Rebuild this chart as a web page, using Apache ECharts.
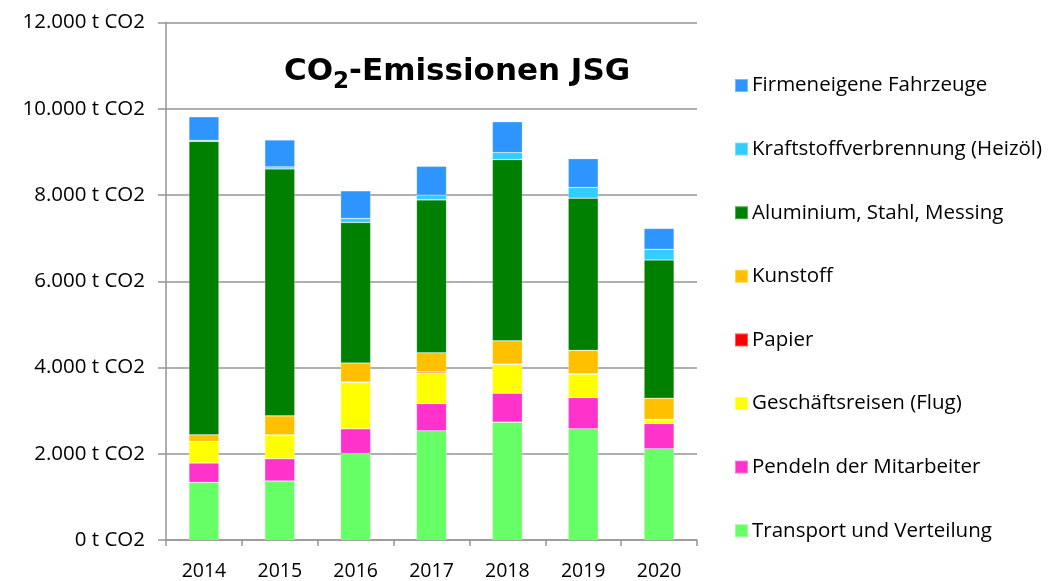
<!DOCTYPE html>
<html>
<head>
<meta charset="utf-8">
<script src="https://cdn.jsdelivr.net/npm/echarts@6/dist/echarts.min.js"></script>
<style>
  html, body { margin: 0; padding: 0; background: #fff; }
  #chart { width: 1063px; height: 581px; }
</style>
</head>
<body>
<div id="chart"></div>
<script>
const years = ['2014', '2015', '2016', '2017', '2018', '2019', '2020'];

// stacked bottom -> top
const transport = [1336, 1369, 2007, 2532, 2733, 2578, 2115];
const pendeln = [449, 515, 571, 631, 670, 724, 585];
const flug = [499, 539, 1070, 710, 662, 540, 86];
const papier = [0, 15, 15, 25, 15, 15, 10];
const kunststoff = [155, 440, 441, 444, 539, 540, 492];
const metall = [6804, 5727, 3260, 3546, 4201, 3529, 3204];
const heizoel = [24, 46, 92, 107, 162, 247, 248];
const fahrzeuge = [547, 625, 641, 671, 717, 670, 485];

const yTicks = [0, 2000, 4000, 6000, 8000, 10000, 12000];

const FONT = 'Open Sans';
const TITLE_FONT = 'DejaVu Sans';

const seriesDefs = [
  ['Transport und Verteilung', transport, '#66FF66'],
  ['Pendeln der Mitarbeiter', pendeln, '#FF33CC'],
  ['Geschäftsreisen (Flug)', flug, '#FFFF00'],
  ['Papier', papier, '#FF0000'],
  ['Kunstoff', kunststoff, '#FFC000'],
  ['Aluminium, Stahl, Messing', metall, '#008000'],
  ['Kraftstoffverbrennung (Heizöl)', heizoel, '#33CCFF'],
  ['Firmeneigene Fahrzeuge', fahrzeuge, '#2E95FF']
];

const chart = echarts.init(document.getElementById('chart'));

const fmt = v => v.toString().replace(/\B(?=(\d{3})+(?!\d))/g, '.') + ' t CO2';

const option = {
  animation: false,
  textStyle: { fontFamily: FONT },
  title: {
    text: '{a|CO}{b|2}{a|-Emissionen JSG}',
    left: 284,
    top: 52,
    padding: 0,
    textStyle: {
      rich: {
        a: { fontFamily: TITLE_FONT, fontSize: 31, fontWeight: 'bold', color: '#000', lineHeight: 40 },
        b: { fontFamily: TITLE_FONT, fontSize: 23, fontWeight: 'bold', color: '#000', lineHeight: 40, padding: [20, 0, 0, 0] }
      }
    }
  },
  legend: {
    orient: 'vertical',
    left: 734,
    top: 75,
    padding: 0,
    itemWidth: 13,
    itemHeight: 13,
    itemGap: 42.6,
    icon: 'rect',
    data: seriesDefs.map(d => d[0]).reverse(),
    textStyle: { fontFamily: FONT, fontSize: 20.5, color: '#000', lineHeight: 20, padding: [0, 0, 0, -1] }
  },
  grid: { left: 166, right: 366, top: 22.5, bottom: 40.5 },
  xAxis: {
    type: 'category',
    data: years,
    axisLine: { lineStyle: { color: '#969696', width: 1.5 } },
    axisTick: { show: true, length: 6, lineStyle: { color: '#969696', width: 1.5 } },
    axisLabel: { fontFamily: FONT, fontSize: 19.5, color: '#000', margin: 21 }
  },
  yAxis: {
    type: 'value',
    min: yTicks[0],
    max: yTicks[yTicks.length - 1],
    interval: yTicks[1] - yTicks[0],
    axisLine: { show: true, lineStyle: { color: '#969696', width: 1.5 } },
    axisTick: { show: true, length: 8, lineStyle: { color: '#969696', width: 1.5 } },
    splitLine: { lineStyle: { color: '#969696', width: 1.5 } },
    axisLabel: { fontFamily: FONT, fontSize: 20.5, color: '#000', margin: 21, formatter: fmt }
  },
  series: seriesDefs.map(([name, data, color]) => ({
    name,
    type: 'bar',
    stack: 'total',
    barWidth: 30,
    data,
    itemStyle: { color, borderColor: 'rgba(255,255,255,0.35)', borderWidth: 0.6 }
  }))
};

chart.setOption(option);
</script>
</body>
</html>
